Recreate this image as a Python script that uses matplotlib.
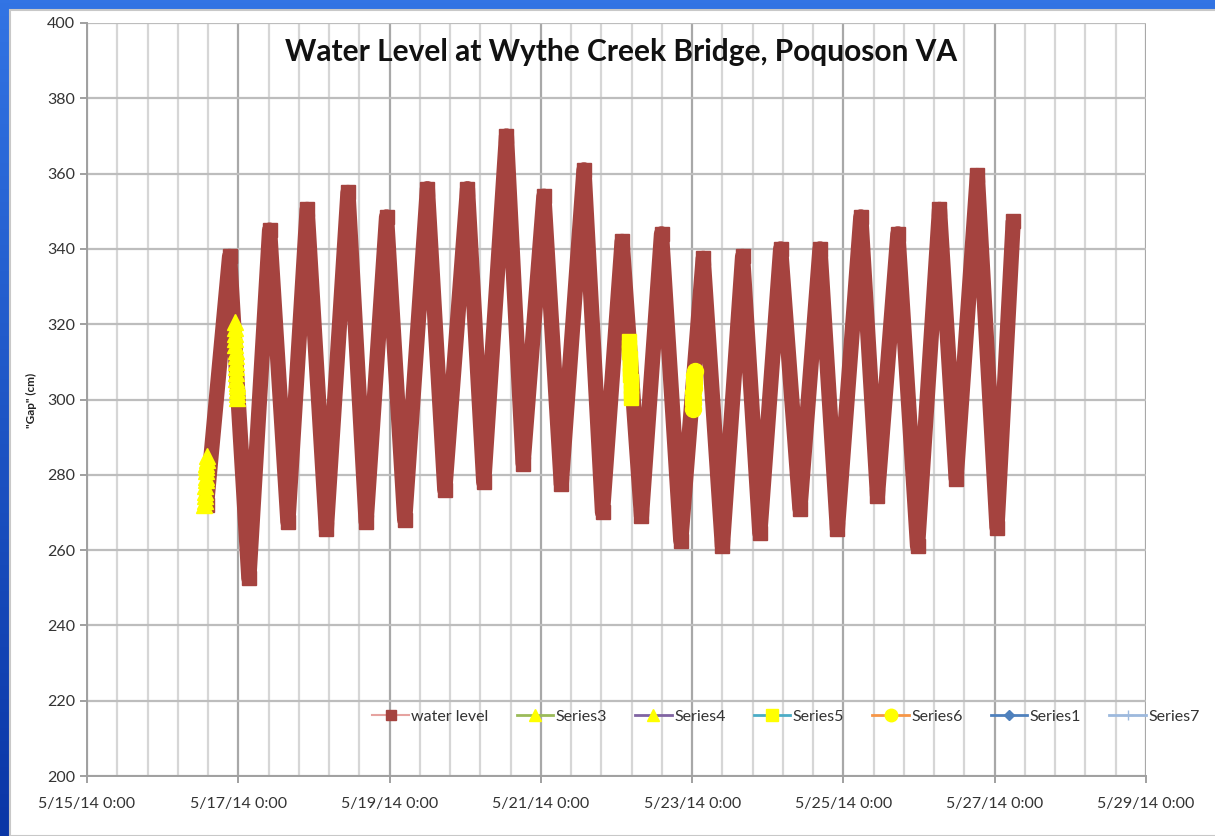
import matplotlib
matplotlib.use('Agg')
import matplotlib.pyplot as plt
import matplotlib.dates as mdates
from matplotlib.lines import Line2D
from matplotlib.patches import Rectangle
import numpy as np
import pandas as pd

BASE = pd.Timestamp('2014-05-15 00:00')

# water level: high / low turning points, days after 5/15/14 0:00 and cm
WL_DAYS = [1.58, 1.885, 2.14, 2.414, 2.656, 2.91, 3.164, 3.45, 3.69, 3.96,
           4.20, 4.50, 4.73, 5.03, 5.245, 5.545, 5.765, 6.04, 6.27, 6.57,
           6.815, 7.074, 7.33, 7.595, 7.85, 8.146, 8.40, 8.667, 8.895, 9.17,
           9.425, 9.69, 9.92, 10.23, 10.45, 10.72, 10.98, 11.27, 11.49, 11.77,
           12.03, 12.245]
WL_CM = [272, 338, 252.5, 345, 267.5, 350.5, 265.5, 355, 267.5, 348.5,
         268, 356, 276, 356, 278, 370, 283, 354, 277.5, 361,
         270, 342, 269, 344, 262.5, 337.5, 261, 338, 264.5, 340,
         271, 340, 265.5, 348.5, 274.5, 344, 261, 350.5, 279, 359.5,
         266, 347.5]

# observed gap readings (yellow markers)
S3_DAYS = [1.552, 1.555, 1.558, 1.561, 1.564, 1.567, 1.570, 1.573, 1.576, 1.579, 1.582, 1.585]
S3_CM = [272, 273, 274.5, 275.5, 277, 278.5, 279.5, 281, 282, 283, 284, 285]
S4_DAYS = [1.955, 1.957, 1.959, 1.961, 1.963, 1.965, 1.967, 1.969, 1.971, 1.973,
           1.975, 1.977, 1.979, 1.981, 1.983, 1.985]
S4_CM = [320.5, 319, 317.5, 316, 314.5, 313, 311.5, 310, 308.5, 307,
         305.5, 304.5, 303.5, 302.5, 301.5, 300.5]
S5_DAYS = [7.165, 7.168, 7.171, 7.174, 7.177, 7.18, 7.183, 7.186, 7.189, 7.192, 7.195]
S5_CM = [315.5, 314, 312.5, 311, 309.5, 308, 306.5, 305, 303.5, 302, 300.5]
S6_DAYS = [8.008, 8.011, 8.014, 8.017, 8.020, 8.023, 8.026, 8.029, 8.032]
S6_CM = [297.5, 299, 300.5, 302, 303, 304.5, 305.5, 306.5, 307.5]

Y_TICKS = [200, 220, 240, 260, 280, 300, 320, 340, 360, 380, 400]
TITLE = 'Water Level at Wythe Creek Bridge, Poquoson VA'


def to_time(days):
    return BASE + pd.to_timedelta(np.array(days), unit='D')


def main():
    fig = plt.figure(figsize=(12.15, 8.36), dpi=100)
    plt.rcParams['font.family'] = ['Lato', 'DejaVu Sans']

    # blue slide background + white chart panel
    bg = fig.add_axes([0, 0, 1, 1], zorder=-10)
    grad = np.linspace(0, 1, 256).reshape(-1, 1)
    cmap = matplotlib.colors.LinearSegmentedColormap.from_list('b', ['#3274e4', '#0a36a6'])
    bg.imshow(grad, aspect='auto', cmap=cmap, extent=[0, 1, 0, 1])
    bg.add_patch(Rectangle((10 / 1215, 0), 1, 1 - 10 / 836, facecolor='white',
                           edgecolor='#c8c8c8', linewidth=1.5))
    bg.set_xlim(0, 1)
    bg.set_ylim(0, 1)
    bg.axis('off')

    ax = fig.add_axes([87 / 1215, 1 - 776 / 836, (1146 - 87) / 1215, (776 - 23) / 836])
    ax.set_facecolor('none')

    ax.plot(to_time(WL_DAYS), WL_CM, color='#a5433f', lw=11,
            solid_joinstyle='round', solid_capstyle='butt',
            marker='s', ms=10, mfc='#a5433f', mec='#a5433f', zorder=3)
    ax.plot(to_time(S3_DAYS), S3_CM, ls='none', marker='^', ms=12, color='#ffff00', zorder=4)
    ax.plot(to_time(S4_DAYS), S4_CM, ls='none', marker='^', ms=12, color='#ffff00', zorder=4)
    ax.plot(to_time(S5_DAYS), S5_CM, ls='none', marker='s', ms=10.5, color='#ffff00', zorder=4)
    ax.plot(to_time(S6_DAYS), S6_CM, ls='none', marker='o', ms=11.5, color='#ffff00', zorder=4)

    ax.set_xlim(BASE, BASE + pd.Timedelta(days=14))
    ax.set_ylim(200, 400)
    major = pd.date_range(BASE, BASE + pd.Timedelta(days=14), freq='2D')
    minor = pd.date_range(BASE, BASE + pd.Timedelta(days=14), freq='576min')
    ax.set_xticks(major)
    ax.set_xticks(minor, minor=True)
    ax.xaxis.set_major_formatter(mdates.DateFormatter('%-m/%-d/%y %-H:%M'))
    ax.set_yticks(Y_TICKS)

    ax.grid(True, axis='y', which='major', color='#bdbdbd', lw=1.6)
    ax.grid(True, axis='x', which='minor', color='#d6d6d6', lw=1.6)
    ax.grid(True, axis='x', which='major', color='#a8a8a8', lw=1.6)
    ax.set_axisbelow(True)
    for s in ['top', 'right']:
        ax.spines[s].set_visible(False)
    for s in ['left', 'bottom']:
        ax.spines[s].set_color('#a0a0a0')
        ax.spines[s].set_linewidth(1.4)
    ax.tick_params(axis='both', which='major', length=5, color='#a0a0a0', width=1.4,
                   labelsize=11.5, labelcolor='#333333')
    ax.tick_params(axis='x', which='minor', length=0)
    ax.tick_params(axis='x', pad=10)

    fig.text(621 / 1215, 1 - 52 / 836, TITLE, ha='center', va='center',
             fontsize=21.5, fontweight='bold', color='#111111')
    fig.text(31 / 1215, 1 - 400 / 836, '"Gap" (cm)', rotation=90, ha='center',
             va='center', fontsize=8.5, fontweight='bold', color='#222222')

    handles = [
        Line2D([], [], color='#e6a3a0', lw=1.5, marker='s', ms=7, mfc='#a5433f', mec='#a5433f'),
        Line2D([], [], color='#9bbb59', lw=2, marker='^', ms=8, mfc='#ffff00', mec='#ffff00'),
        Line2D([], [], color='#8064a2', lw=2, marker='^', ms=8, mfc='#ffff00', mec='#ffff00'),
        Line2D([], [], color='#4bacc6', lw=2, marker='s', ms=8, mfc='#ffff00', mec='#ffff00'),
        Line2D([], [], color='#f79646', lw=2, marker='o', ms=9, mfc='#ffff00', mec='#ffff00'),
        Line2D([], [], color='#4f81bd', lw=2, marker='D', ms=5, mfc='#4f81bd', mec='#4f81bd'),
        Line2D([], [], color='#9db9dd', lw=2, marker='+', ms=7, mec='#9db9dd'),
    ]
    labels = ['water level', 'Series3', 'Series4', 'Series5', 'Series6', 'Series1', 'Series7']
    fig.legend(handles, labels, loc='center', ncol=7, frameon=False,
               bbox_to_anchor=(786 / 1215, 1 - 717 / 836), fontsize=11.5,
               handlelength=2.3, handletextpad=0.15, columnspacing=1.75,
               labelcolor='#333333')

    fig.savefig('out.png', dpi=100)


if __name__ == '__main__':
    main()
